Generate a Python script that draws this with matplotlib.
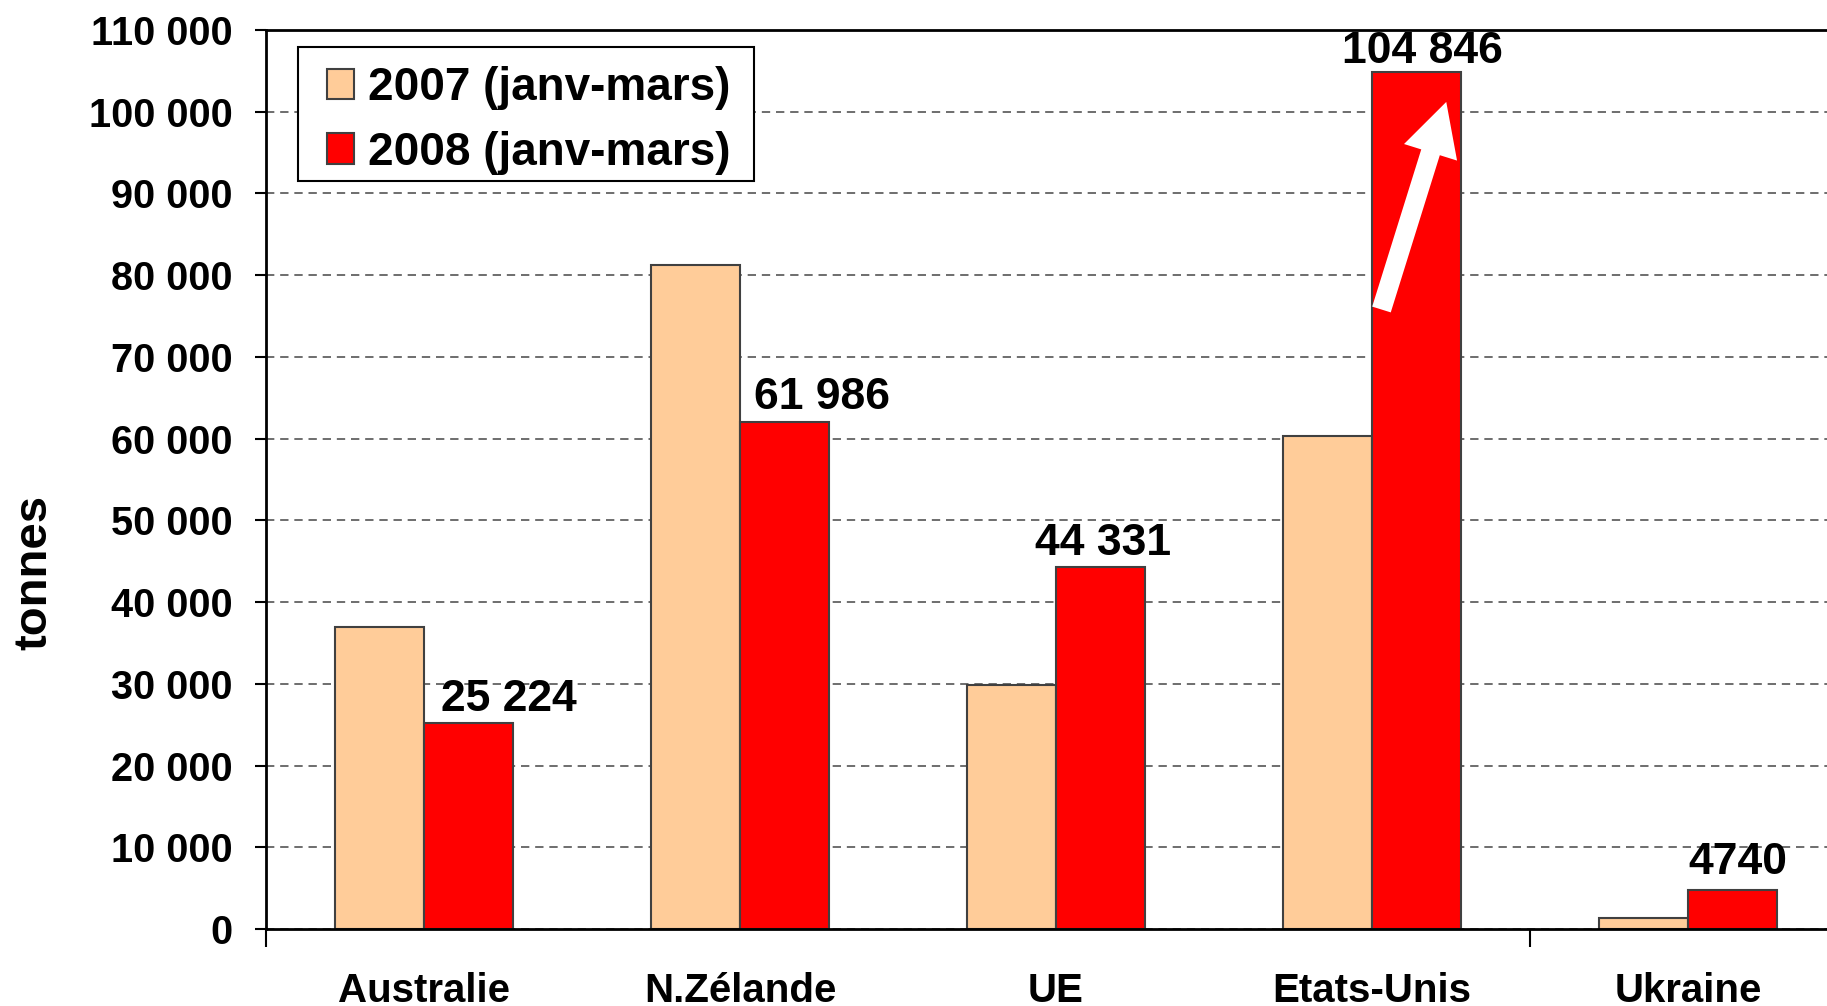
import matplotlib
matplotlib.use("Agg")
import matplotlib.pyplot as plt
from matplotlib.ticker import FuncFormatter, FixedLocator
from matplotlib.patches import Rectangle
import numpy as np

plt.rcParams['font.family'] = ['Liberation Sans', 'DejaVu Sans']
plt.rcParams['font.weight'] = 'bold'
plt.rcParams['axes.labelweight'] = 'bold'

# data
categories = ["Australie", "N.Zélande", "UE", "Etats-Unis", "Ukraine"]
series_names = ["2007 (janv-mars)", "2008 (janv-mars)"]
values_2007 = [36900, 81300, 29800, 60300, 1300]
values_2008 = [25224, 61986, 44331, 104846, 4740]
labels_2008 = ["25 224", "61 986", "44 331", "104 846", "4740"]

col_2007 = "#FFCC99"
col_2008 = "#FF0000"
edge = "#404040"

W, H = 1827, 1006
fig = plt.figure(figsize=(W / 100, H / 100), dpi=100)
ax_left, ax_bottom, ax_top = 266, 929, 30
ax = fig.add_axes([ax_left / W, (H - ax_bottom) / H, (W - ax_left) / W, (ax_bottom - ax_top) / H])

x = np.arange(len(categories))
bw = 0.283
ax.bar(x - bw / 2, values_2007, bw, color=col_2007, edgecolor=edge, lw=1.5, label=series_names[0], zorder=2)
ax.bar(x + bw / 2, values_2008, bw, color=col_2008, edgecolor=edge, lw=1.5, label=series_names[1], zorder=2)

ax.set_xlim(-0.5, -0.5 + (W - ax_left) / 316.0)
ax.set_ylim(0, 110000)

# y axis
ax.set_yticks(np.arange(0, 110001, 10000))
ax.yaxis.set_major_formatter(FuncFormatter(lambda v, p: f"{int(v):,}".replace(",", " ")))
ax.tick_params(axis='y', direction='out', length=8, width=1.5, pad=16, labelsize=28.5)
ax.grid(axis='y', color='#555555', lw=1.2, linestyle=(0, (5, 3.5)), zorder=0)
ax.set_axisbelow(True)

# x axis: labels centred, ticks only where the original shows them
ax.set_xticks(x)
ax.set_xticklabels(categories, fontsize=29)
ax.tick_params(axis='x', length=0, pad=31)
ax.xaxis.set_minor_locator(FixedLocator([-0.5, 3.5]))
ax.tick_params(axis='x', which='minor', direction='out', length=13, width=1.5)

for s in ['left', 'bottom', 'top']:
    ax.spines[s].set_linewidth(2)
    ax.spines[s].set_color('black')
ax.spines['right'].set_visible(False)

ax.set_ylabel("tonnes", fontsize=34, fontweight='bold')
ax.yaxis.set_label_coords(-0.134, 0.397)

# labels above 2008 bars
dx = [40, 37, 2, 6, 5]
dy = [12, 13, 12, 9, 16]
for i in range(len(categories)):
    ax.annotate(labels_2008[i], xy=(x[i] + bw / 2, values_2008[i]), xytext=(dx[i], dy[i]),
                textcoords='offset pixels', ha='center', va='baseline', fontsize=32, zorder=5)

# white arrow on Etats-Unis
ax.annotate("", xy=(3.235, 101200), xytext=(3.03, 75800),
            arrowprops=dict(arrowstyle="simple,head_width=2.0,head_length=1.9,tail_width=0.7",
                            mutation_scale=20, fc='white', ec='white', lw=0,
                            shrinkA=0, shrinkB=0), zorder=6)

# legend box drawn separately (wider side padding than matplotlib's uniform borderpad)
ax.add_patch(Rectangle((0.0205, 0.832), 0.292, 0.149, transform=ax.transAxes,
                       fc='white', ec='black', lw=1.5, zorder=4, clip_on=False))
leg = ax.legend(loc='upper left', bbox_to_anchor=(0.039, 0.960), borderaxespad=0, fontsize=33,
                frameon=False, handlelength=0.6, handleheight=0.65, handletextpad=0.3,
                borderpad=0, labelspacing=0.45)
leg.set_zorder(5)
for p in leg.get_patches():
    p.set_edgecolor(edge)

fig.savefig("out.png", dpi=100)
